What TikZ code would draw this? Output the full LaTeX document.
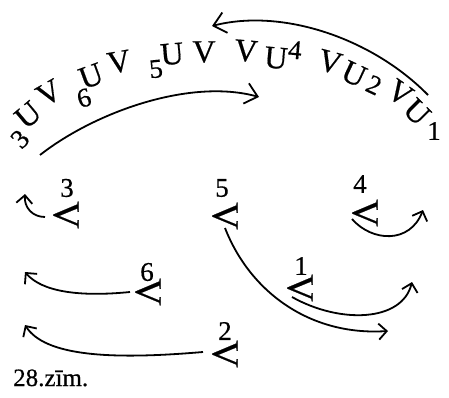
\documentclass[tikz,border=0pt]{standalone}
\usepackage{fontspec}
\setmainfont{Liberation Serif}
\newfontfamily\heavyserif{Liberation Serif}[FakeBold=0.5]
\usetikzlibrary{arrows.meta}

\begin{document}
\begin{tikzpicture}[x=1pt, y=-1pt, every node/.style={inner sep=0pt},
	lett/.style={font=\heavyserif\fontsize{32}{32}\selectfont},
	num/.style={font=\heavyserif\fontsize{27}{27}\selectfont},
	sidev/.style={font=\heavyserif\fontsize{38}{38}\selectfont, rotate=-90},
	turnarrow/.style={line width=1.8pt, -{Straight Barb[length=8pt,width=16pt]}},
	bigturnarrow/.style={line width=1.8pt, -{Straight Barb[length=12pt,width=21pt]}}]
	\useasboundingbox (0,0) rectangle (449,398);
	% letters along the arc
	\node[num, rotate=45] (n3a) at (20,139) {3};
	\node[lett, rotate=40] (u3) at (28,115) {U};
	\node[lett, rotate=30] (va) at (49,93) {V};
	\node[num, rotate=15] (n6a) at (84,98) {6};
	\node[lett, rotate=20] (u6) at (91,76) {U};
	\node[lett, rotate=10] (vb) at (119,62) {V};
	\node[num, rotate=5] (n5a) at (156,69) {5};
	\node[lett, rotate=5] (u5) at (172,54) {U};
	\node[lett] (vc) at (204,52) {V};
	\node[lett, rotate=-5] (vd) at (246,51) {V};
	\node[lett, rotate=-5] (u4) at (276,58) {U};
	\node[num, rotate=-5] (n4a) at (295,50) {4};
	\node[lett, rotate=-15] (ve) at (330,62) {V};
	\node[lett, rotate=-25] (u2) at (354,74) {U};
	\node[num, rotate=-25] (n2a) at (374,85) {2};
	\node[lett, rotate=-35] (vf) at (400,93) {V};
	\node[lett, rotate=-45] (u1) at (417,112) {U};
	\node[num] (n1a) at (434,131) {1};
	% the two long arrows
	\coordinate (ta) at (428,95);
	\coordinate (tb) at (212,26);
	\coordinate (tc) at (40,155);
	\coordinate (td) at (259,97);
	\draw[bigturnarrow] (ta) .. controls (372,38) and (282,8) .. (tb);
	\draw[bigturnarrow] (tc) .. controls (95,112) and (190,78) .. (td);
	% turned letters below
	\node[num] (lab3) at (67,188) {3};
	\node[sidev] (v3) at (66,215) {V};
	\node[num] (lab5) at (222,188) {5};
	\node[sidev] (v5) at (225,216) {V};
	\node[num] (lab4) at (360,184) {4};
	\node[sidev] (v4) at (365,213) {V};
	\node[num] (lab6) at (147,272) {6};
	\node[sidev] (v6) at (148,292) {V};
	\node[num] (lab1) at (301,266) {1};
	\node[sidev] (v1) at (300,288) {V};
	\node[num] (lab2) at (225,331) {2};
	\node[sidev] (v2) at (225,354) {V};
	% arrow ends
	\coordinate (s3) at (45,217);  \coordinate (e3) at (25,194);
	\coordinate (s5) at (225,228); \coordinate (e5) at (388,331);
	\coordinate (s4) at (352,219); \coordinate (e4) at (423,210);
	\coordinate (s6) at (130,292); \coordinate (e6) at (25,272);
	\coordinate (s1) at (292,297); \coordinate (e1) at (412,282);
	\coordinate (s2) at (203,352); \coordinate (e2) at (25,325);
	\draw[turnarrow] (s3) .. controls (32,217) and (24,207) .. (e3);
	\draw[turnarrow] (s5) .. controls (250,292) and (310,336) .. (e5);
	\draw[turnarrow] (s4) .. controls (372,242) and (410,244) .. (e4);
	\draw[turnarrow] (s6) .. controls (80,297) and (42,292) .. (e6);
	\draw[turnarrow] (s1) .. controls (340,324) and (402,322) .. (e1);
	\draw[turnarrow] (s2) .. controls (110,360) and (45,356) .. (e2);
	\node[font=\heavyserif\fontsize{25}{25}\selectfont, anchor=base west] (cap) at (13,386) {28.zīm.};
\end{tikzpicture}
\end{document}
